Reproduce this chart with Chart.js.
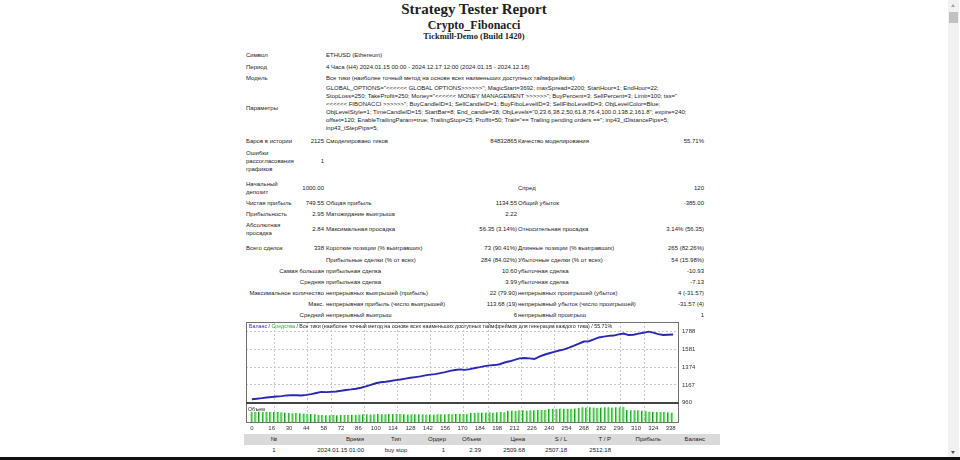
<!DOCTYPE html>
<html>
<head>
<meta charset="utf-8">
<script src="https://cdn.jsdelivr.net/npm/chart.js@4.4.1/dist/chart.umd.min.js"></script>
<style>
html, body { margin: 0; padding: 0; background: #fff; width: 960px; height: 460px; overflow: hidden; }
body { position: relative; font-family: "Liberation Sans", Arial, sans-serif; color: #222; }
.ttl { position: absolute; left: 244px; width: 460px; text-align: center; font-family: "Liberation Serif", "Times New Roman", serif; font-weight: bold; line-height: 1; white-space: nowrap; }
#stats { position: absolute; left: 245px; top: 49px; width: 459px; table-layout: fixed; border-collapse: collapse; font-size: 6px; line-height: 8px; }
#stats td { padding: 0; vertical-align: middle; white-space: nowrap; overflow: visible; }
#stats td.r { text-align: right; }
#stats td.p { padding-left: 2px; }
#stats td.q { padding-left: 1px; }
#stats td.a { padding-left: 1px; }
#chartBox { position: absolute; left: 244px; top: 320px; width: 460px; height: 114px; }
#chartBox .cap { position: absolute; font-size: 5.3px; line-height: 6px; white-space: nowrap; color: #222; }
#deals { position: absolute; left: 244px; top: 434px; width: 476px; table-layout: fixed; border-collapse: collapse; font-size: 6px; line-height: 11px; }
#deals td { padding: 0; white-space: nowrap; text-align: right; }
#deals tr.hd td { background: #dadada; }
#deals td.c { text-align: center; }
#scroll { position: absolute; left: 948px; top: 0; width: 11px; height: 457px; background: #f1f1f1; }
#thumb { position: absolute; left: 1px; top: 12px; width: 9px; height: 11px; background: #c1c1c1; }
.arr { position: absolute; left: 3px; width: 0; height: 0; border-left: 2.5px solid transparent; border-right: 2.5px solid transparent; }
#bottomBar { position: absolute; left: 0; top: 457px; width: 960px; height: 3px; background: #111; }
</style>
</head>
<body>

<div class="ttl" style="top:2px;font-size:15px;">Strategy Tester Report</div>
<div class="ttl" style="top:19px;font-size:12px;">Crypto_Fibonacci</div>
<div class="ttl" style="top:32px;font-size:8.5px;">Tickmill-Demo (Build 1420)</div>

<table id="stats">
<colgroup><col style="width:55px"><col style="width:24px"><col style="width:120px"><col style="width:73px"><col style="width:123px"><col style="width:64px"></colgroup>
<tr style="height:12px"><td colspan="2" class="a">Символ</td><td colspan="4" class="p">ETHUSD (Ethereum)</td></tr>
<tr style="height:11px"><td colspan="2" class="a">Период</td><td colspan="4" class="p">4 Часа (H4) 2024.01.15 00:00 - 2024.12.17 12:00 (2024.01.15 - 2024.12.18)</td></tr>
<tr style="height:11px"><td colspan="2" class="a">Модель</td><td colspan="4" class="p">Все тики (наиболее точный метод на основе всех наименьших доступных таймфреймов)</td></tr>
<tr style="height:50px"><td colspan="2" class="a">Параметры</td><td colspan="4" class="p">GLOBAL_OPTIONS="&lt;&lt;&lt;&lt;&lt;&lt; GLOBAL OPTIONS&gt;&gt;&gt;&gt;&gt;&gt;"; MagicStart=3692; maxSpread=2200; StartHour=1; EndHour=22;<br>StopLoss=250; TakeProfit=250; Money="&lt;&lt;&lt;&lt;&lt;&lt; MONEY MANAGEMENT &gt;&gt;&gt;&gt;&gt;&gt;"; BuyPercent=3; SellPercent=3; Limit=100; tss="<br>&lt;&lt;&lt;&lt;&lt;&lt; FIBONACCI &gt;&gt;&gt;&gt;&gt;&gt;"; BuyCandleID=1; SellCandleID=1; BuyFiboLevelID=3; SellFiboLevelID=3; ObjLevelColor=Blue;<br>ObjLevelStyle=1; TimeCandleID=15; StartBar=8; End_candle=38; ObjLevels="0,23.6,38.2,50,61.8,76.4,100.0,138.2,161.8"; expire=240;<br>offset=120; EnableTrailingParam=true; TrailingStop=25; Proffit=50; Trail="== Trailing pending orders =="; inp43_tDistancePips=5;<br>inp43_tStepPips=5;</td></tr>
<tr style="height:16px"><td class="a">Баров в истории</td><td class="r">2125</td><td class="p">Смоделировано тиков</td><td class="r">84832865</td><td class="q">Качество моделирования</td><td class="r">55.71%</td></tr>
<tr style="height:24px"><td class="a">Ошибки<br>рассогласования<br>графиков</td><td class="r">1</td><td></td><td></td><td></td><td></td></tr>
<tr style="height:6px"><td colspan="6"></td></tr>
<tr style="height:18px"><td class="a">Начальный<br>депозит</td><td class="r">1000.00</td><td></td><td></td><td class="q">Спред</td><td class="r">120</td></tr>
<tr style="height:11px"><td class="a">Чистая прибыль</td><td class="r">749.55</td><td class="p">Общая прибыль</td><td class="r">1134.55</td><td class="q">Общий убыток</td><td class="r">-385.00</td></tr>
<tr style="height:12px"><td class="a">Прибыльность</td><td class="r">2.95</td><td class="p">Матожидание выигрыша</td><td class="r">2.22</td><td></td><td></td></tr>
<tr style="height:17px"><td class="a">Абсолютная<br>просадка</td><td class="r">2.84</td><td class="p">Максимальная просадка</td><td class="r">56.35 (3.14%)</td><td class="q">Относительная просадка</td><td class="r">3.14% (56.35)</td></tr>
<tr style="height:5px"><td colspan="6"></td></tr>
<tr style="height:12px"><td class="a">Всего сделок</td><td class="r">338</td><td class="p">Короткие позиции (% выигравших)</td><td class="r">73 (90.41%)</td><td class="q">Длинные позиции (% выигравших)</td><td class="r">265 (82.26%)</td></tr>
<tr style="height:11px"><td colspan="2"></td><td class="p">Прибыльные сделки (% от всех)</td><td class="r">284 (84.02%)</td><td class="q">Убыточные сделки (% от всех)</td><td class="r">54 (15.98%)</td></tr>
<tr style="height:11px"><td colspan="2" class="r">Самая большая</td><td class="p">прибыльная сделка</td><td class="r">10.60</td><td class="q">убыточная сделка</td><td class="r">-10.93</td></tr>
<tr style="height:11px"><td colspan="2" class="r">Средняя</td><td class="p">прибыльная сделка</td><td class="r">3.99</td><td class="q">убыточная сделка</td><td class="r">-7.13</td></tr>
<tr style="height:11px"><td colspan="2" class="r">Максимальное количество</td><td class="p">непрерывных выигрышей (прибыль)</td><td class="r">22 (79.90)</td><td class="q">непрерывных проигрышей (убыток)</td><td class="r">4 (-31.57)</td></tr>
<tr style="height:11px"><td colspan="2" class="r">Макс.</td><td class="p">непрерывная прибыль (число выигрышей)</td><td class="r">113.68 (19)</td><td class="q">непрерывный убыток (число проигрышей)</td><td class="r">-31.57 (4)</td></tr>
<tr style="height:11px"><td colspan="2" class="r">Средний</td><td class="p">непрерывный выигрыш</td><td class="r">6</td><td class="q">непрерывный проигрыш</td><td class="r">1</td></tr>
</table>

<div id="chartBox">
  <canvas id="report-chart" width="460" height="114"></canvas>
  <div class="cap" style="left:5px;top:3px;"><span style="color:#2b2bc4">Баланс</span> / <span style="color:#22b022">Средства</span> / Все тики (наиболее точный метод на основе всех наименьших доступных таймфреймов для генерации каждого тика) / 55.71%</div>
  <div class="cap" style="left:4px;top:86px;">Объем</div>
</div>

<table id="deals">
<colgroup><col style="width:60px"><col style="width:60px"><col style="width:64px"><col style="width:17px"><col style="width:36px"><col style="width:44px"><col style="width:42px"><col style="width:44px"><col style="width:50px"><col style="width:44px"><col style="width:15px"></colgroup>
<tr class="hd"><td class="c">№</td><td>Время</td><td class="c">Тип</td><td>Ордер</td><td>Объем</td><td>Цена</td><td>S / L</td><td>T / P</td><td>Прибыль</td><td>Баланс</td><td></td></tr>
<tr><td class="c">1</td><td>2024.01.15 01:00</td><td class="c">buy stop</td><td>1</td><td>2.39</td><td>2509.68</td><td>2507.18</td><td>2512.18</td><td></td><td></td><td></td></tr>
</table>

<div id="scroll">
  <div class="arr" style="top:4px;border-bottom:3px solid #a3a3a3;"></div>
  <div id="thumb"></div>
  <div class="arr" style="top:451px;border-top:3px solid #505050;"></div>
</div>
<div id="bottomBar"></div>

<script>
// balance curve, one point every 4 trades (trade 0 .. 340)
const balanceValues = [
    1000, 1006, 1012, 1020, 1026, 1031, 1036, 1044, 1048, 1046,
    1043, 1050, 1060, 1072, 1085, 1083, 1086, 1090, 1098, 1108,
    1114, 1122, 1134, 1150, 1168, 1186, 1198, 1204, 1212, 1222,
    1230, 1240, 1250, 1258, 1266, 1278, 1286, 1292, 1304, 1316,
    1330, 1340, 1348, 1342, 1350, 1364, 1374, 1386, 1394, 1398,
    1408, 1428, 1442, 1458, 1476, 1480, 1476, 1468, 1496, 1518,
    1536, 1552, 1568, 1580, 1600, 1624, 1648, 1672, 1676, 1698,
    1720, 1730, 1738, 1742, 1756, 1766, 1748, 1752, 1764, 1774,
    1788, 1776, 1758, 1748, 1752, 1754
];
const balanceStep = 4;

// lot size, one bar every 3 trades (trade 0 .. 339)
const volumeValues = [
    2.55, 2.6, 2.62, 2.58, 2.6, 2.55, 2.5, 2.52, 2.45, 2.4,
    2.3, 2.25, 2.28, 2.2, 2.15, 2.1, 2.05, 2.0,
    1.85, 1.8, 1.78, 1.75, 1.8, 1.78, 1.82, 1.8, 1.85, 1.88, 1.9,
    1.95, 1.98, 2.0, 1.95, 2.02, 2.05, 2.0, 1.98, 2.05, 2.08,
    2.1, 2.05, 2.0, 1.95, 1.98, 2.0, 2.02, 1.98, 1.95, 1.92,
    1.95, 1.98, 2.0, 2.02, 2.05, 2.0, 2.05, 2.1, 2.08, 2.12,
    2.3, 2.35, 2.4, 2.38, 2.42, 2.45, 2.4, 2.48, 2.5, 2.45,
    2.8, 2.85, 2.8, 2.9, 2.92, 2.85, 2.9, 2.95, 3.0, 2.98, 3.05,
    3.2, 3.3, 3.28, 3.35, 3.3, 3.25, 3.3, 3.35,
    3.5, 3.6, 3.55, 3.62, 3.58, 3.5, 3.55, 3.6, 3.65, 3.58, 3.6, 3.62, 3.7,
    3.0, 2.95, 2.9, 2.95, 2.85,
    2.7, 2.65, 2.6, 2.55, 2.5, 2.52, 2.45, 2.4
];
const volumeStep = 3;

const xTickLabels = [0, 16, 30, 44, 58, 72, 86, 100, 114, 128, 142, 156, 170, 184, 198, 212, 226, 240, 254, 268, 282, 296, 310, 324, 338];
const balanceTicks = [960, 1167, 1374, 1581, 1788];

const balanceTrades = balanceValues.map((v, i) => i * balanceStep);
const volumeTrades = volumeValues.map((v, i) => i * volumeStep);

// vertical grid of the tester picture does not follow the labels
const gridStart = 20.4;
const gridStep = 25.3;
const gridTicks = [];
for (let g = gridStart; g < 335; g += gridStep) gridTicks.push(+g.toFixed(2));
const allXTicks = Array.from(new Set(xTickLabels.concat(gridTicks))).sort((a, b) => a - b);

let chart;

const panelFrames = {
    id: "panelFrames",
    afterDatasetsDraw(c) {
        const ctx = c.ctx;
        const area = c.chartArea;
        ctx.save();
        ctx.strokeStyle = "#707070";
        ctx.lineWidth = 1;
        ["yBal", "yVol"].forEach(id => {
            const s = c.scales[id];
            ctx.strokeRect(Math.round(area.left) + 0.5, Math.round(s.top) + 0.5, Math.round(area.width) - 1, Math.round(s.height) - 1);
        });
        ctx.strokeStyle = "#444";
        ctx.lineWidth = 2;
        ctx.beginPath();
        const yb = Math.round(c.scales.yBal.bottom);
        ctx.moveTo(area.left, yb);
        ctx.lineTo(area.right, yb);
        ctx.stroke();
        ctx.restore();
    }
};

function noPadding(s) {
    s.paddingTop = 0;
    s.paddingBottom = 0;
    s.paddingLeft = 0;
    s.paddingRight = 0;
}

document.addEventListener("DOMContentLoaded", function() {
    const canvas = document.getElementById("report-chart");
    chart = new Chart(canvas, {
        data: {
            datasets: [{
                type: "line",
                data: balanceTrades.map((x, i) => ({x: x, y: balanceValues[i]})),
                xAxisID: "x",
                yAxisID: "yBal",
                borderColor: "#2828b4",
                borderWidth: 1.9,
                pointRadius: 0,
                tension: 0
            }, {
                type: "bar",
                data: volumeTrades.map((x, i) => ({x: x, y: volumeValues[i]})),
                xAxisID: "x",
                yAxisID: "yVol",
                backgroundColor: "#72e872",
                borderColor: "#1e9a1e",
                borderWidth: {left: 1, right: 0, top: 0, bottom: 0},
                barThickness: 2,
                borderSkipped: false
            }]
        },
        options: {
            responsive: false,
            animation: false,
            layout: {padding: {left: 2, top: 2, right: 0, bottom: 0}},
            plugins: {legend: {display: false}, tooltip: {enabled: false}},
            scales: {
                x: {
                    type: "linear",
                    min: 0,
                    max: 340,
                    afterBuildTicks: s => { s.ticks = allXTicks.map(v => ({value: v})); },
                    afterFit: noPadding,
                    ticks: {
                        autoSkip: false,
                        maxRotation: 0,
                        padding: 2,
                        color: "#333",
                        font: {family: "Liberation Sans", size: 6},
                        callback: v => xTickLabels.includes(v) ? String(v) : ""
                    },
                    grid: {
                        drawTicks: false,
                        color: c => (c.tick && gridTicks.includes(c.tick.value)) ? "#c8c8c8" : "rgba(0,0,0,0)"
                    },
                    border: {display: false, dash: [2, 2]}
                },
                yBal: {
                    type: "linear",
                    position: "right",
                    stack: "panels",
                    stackWeight: 4,
                    min: 960,
                    max: 1900,
                    afterBuildTicks: s => { s.ticks = balanceTicks.map(v => ({value: v})); },
                    afterFit: s => { s.width = 25; noPadding(s); },
                    ticks: {padding: 3, color: "#333", font: {family: "Liberation Sans", size: 6}, callback: v => String(v)},
                    grid: {drawTicks: false, color: "#c8c8c8"},
                    border: {display: false, dash: [2, 2]}
                },
                yVol: {
                    type: "linear",
                    position: "right",
                    stack: "panels",
                    stackWeight: 1,
                    min: 0,
                    max: 4.7,
                    afterFit: s => { s.width = 25; noPadding(s); },
                    ticks: {display: false},
                    grid: {display: false},
                    border: {display: false}
                }
            }
        },
        plugins: [panelFrames]
    });
});
</script>
</body>
</html>
